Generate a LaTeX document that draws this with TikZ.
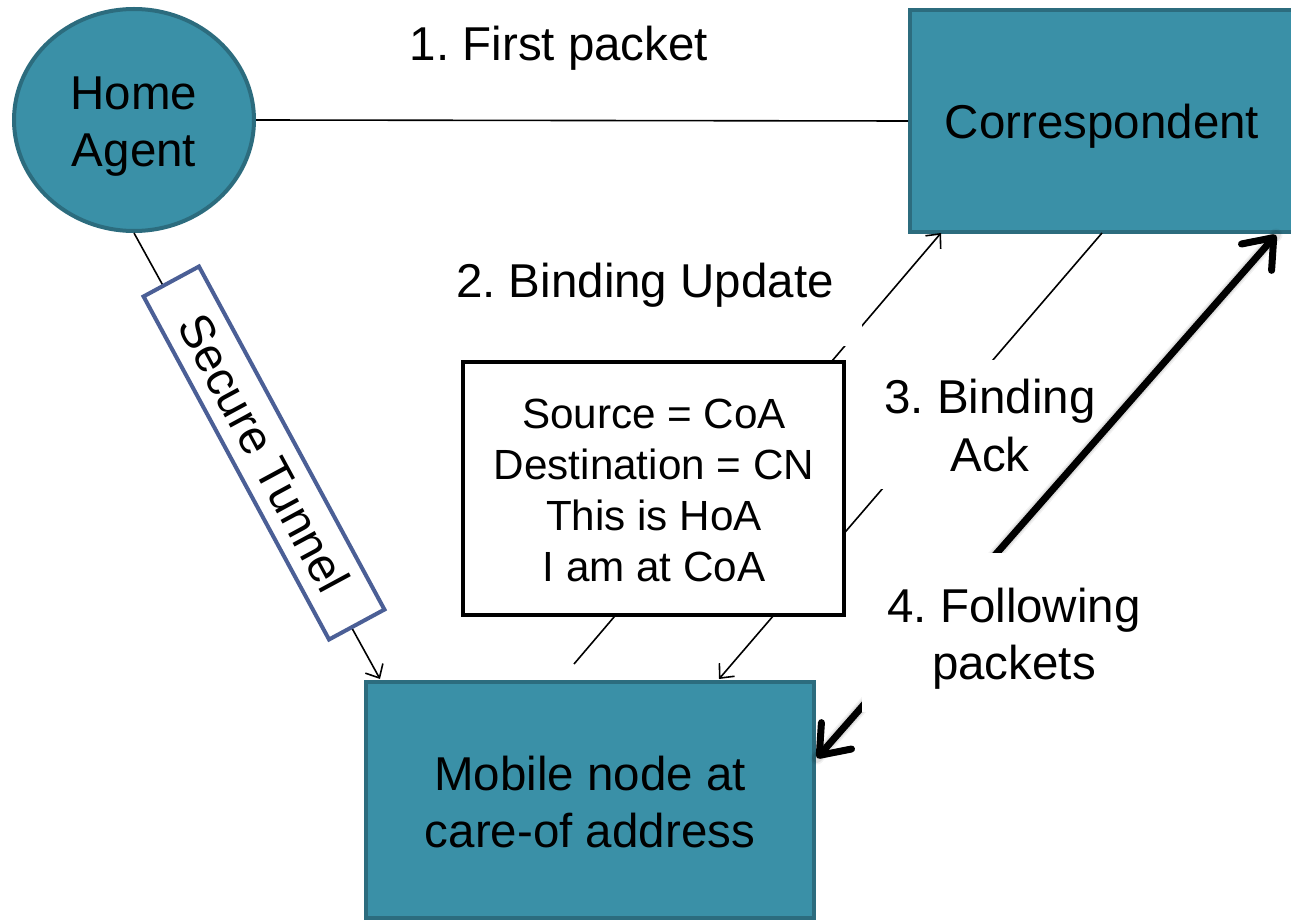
\documentclass[tikz,border=0pt]{standalone}
\usepackage{fontspec}
\setmainfont{Liberation Sans}
\usetikzlibrary{arrows.meta,shapes.geometric}

\definecolor{tealfill}{HTML}{3A90A7}
\definecolor{tealedge}{HTML}{2C6C7E}
\definecolor{tunneledge}{HTML}{4B5F96}

% centred stack of lines whose baseline is the first line
\newcommand{\linesc}[1]{\begin{tabular}[t]{@{}c@{}}#1\end{tabular}}

\begin{document}
\frenchspacing
\begin{tikzpicture}[x=1pt,y=-1pt,
  big/.style={font=\fontsize{47.5}{57}\selectfont\frenchspacing, inner sep=0pt},
  small/.style={font=\fontsize{42.2}{51.3}\selectfont\frenchspacing, inner sep=0pt},
  entity/.style={fill=tealfill, draw=tealedge, line width=4pt},
  msgbox/.style={fill=white, draw=black, line width=4pt},
  tunnelbox/.style={fill=white, draw=tunneledge, line width=4pt, big},
  whitelabel/.style={big, fill=white, inner sep=0pt, anchor=base},
  thinlink/.style={line width=1.6pt, black},
  thinhead/.style={-{Straight Barb[length=11pt,width=20pt]}},
  thicklink/.style={line width=7pt, black, line cap=round,
    {Straight Barb[length=26pt,width=40pt,line cap=round,line join=round]}-{Straight Barb[length=26pt,width=40pt,line cap=round,line join=round]}},
]
\useasboundingbox (0,0) rectangle (1291,920);
\clip (0,0) rectangle (1291,920);

% ---- entities ----
\node[entity, ellipse, minimum width=240pt, minimum height=222pt] (ha) at (134,120) {};
\node[big, anchor=base] (hatxt) at (134,110) {\linesc{Home\\Agent}};

\node[entity, rectangle, minimum width=384pt, minimum height=222pt] (corr) at (1102,121) {};
\node[big, anchor=base] (corrtxt) at (1102,139) {Correspondent};

\node[entity, rectangle, minimum width=448pt, minimum height=236pt] (mn) at (590,800) {};
\node[big, anchor=base] (mntxt) at (590,790) {\linesc{Mobile node at\\care-of address}};

% ---- connector end points ----
\coordinate (tunEnd) at (380,679);
\coordinate (buStart) at (574,664);
\coordinate (buEnd) at (941,233);
\coordinate (baStart) at (1102,233);
\coordinate (baEnd) at (719,679);
\coordinate (fpLow) at (817,758);
\coordinate (fpHigh) at (1276,235);

% ---- 1. first packet ----
\draw[thinlink] (ha.east) -- (corr.west);
\node[big, anchor=base] (firstlbl) at (559,61) {1. First packet};

% ---- secure tunnel ----
\draw[thinlink, thinhead] (ha.south) -- (tunEnd);
\node[tunnelbox, rotate=-61.6, minimum width=390pt, minimum height=63pt] (tunnel) at (264,453) {Secure Tunnel};

% ---- 2. binding update and 3. binding ack ----
\draw[thinlink, thinhead] (buStart) -- (buEnd);
\draw[thinlink, thinhead] (baStart) -- (baEnd);
\node[whitelabel, minimum width=434pt, text height=42pt, text depth=48pt] (bulbl) at (645,298) {2. Binding Update};
\node[whitelabel, minimum width=240pt, text height=53pt, text depth=76pt] (balbl) at (990,413) {\linesc{3. Binding\\[1pt]Ack}};

% ---- message contents ----
\node[msgbox, minimum width=381pt, minimum height=253pt] (msg) at (653.5,488.5) {};
\node[small, anchor=base] (msgtxt) at (654,428) {\linesc{Source = CoA\\Destination = CN\\This is HoA\\I am at CoA}};

% ---- 4. following packets (with soft shadow) ----
\draw[line width=13pt, black, opacity=0.05, line cap=round, shift={(3,3)}] (fpLow) -- (fpHigh);
\draw[line width=10pt, black, opacity=0.08, line cap=round, shift={(3,3)}] (fpLow) -- (fpHigh);
\draw[thicklink] (fpLow) -- (fpHigh);
\node[whitelabel, minimum width=304pt, text height=69pt, text depth=90pt] (fplbl) at (1014,622) {\linesc{4. Following\\packets}};
\end{tikzpicture}
\end{document}
